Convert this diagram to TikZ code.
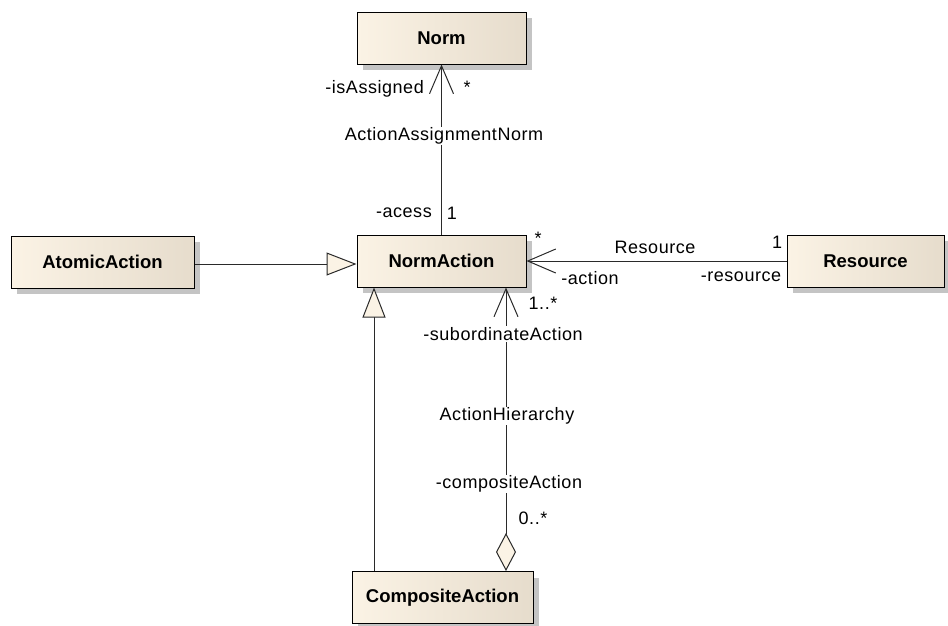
\documentclass[tikz,border=0pt]{standalone}
\usepackage{fontspec}
\setmainfont{Liberation Sans}
\newfontfamily\lblfont[LetterSpace=3]{Liberation Sans}
\usetikzlibrary{arrows.meta,shadows}

\definecolor{boxlight}{HTML}{FBF3E5}
\definecolor{boxdark}{HTML}{E6DCCC}
\definecolor{shadowgray}{HTML}{C4C4C4}
\definecolor{linegray}{HTML}{2A2A2A}

\tikzset{
  classbox/.style={draw=black, line width=1pt, minimum height=52pt, inner sep=0pt,
    left color=boxlight, right color=boxdark,
    font=\bfseries\fontsize{18.5}{20}\selectfont,
    drop shadow={shadow xshift=6pt, shadow yshift=-6pt, fill=shadowgray, opacity=1}},
  lbl/.style={font=\lblfont\fontsize{18}{20}\selectfont, inner sep=1pt, text=black},
  onlinelbl/.style={lbl, fill=white},
  conn/.style={draw=linegray, line width=1pt},
  navarrow/.style={conn, -{Straight Barb[length=28pt, width=24pt, line width=1pt]}},
  genarrow/.style={conn, -{Triangle[length=30pt, width=23pt, fill=boxlight, line width=1pt]}},
  aggarrow/.style={conn, {Diamond[length=38pt, width=20pt, fill=boxlight, line width=1pt]}-{Straight Barb[length=28pt, width=24pt, line width=1pt]}}
}

\begin{document}
\begin{tikzpicture}[x=1pt, y=-1pt]
  \useasboundingbox (0,0) rectangle (948,625);

  % classes
  \node[classbox, minimum width=169pt] (norm) at (441.5,38) {Norm};
  \node[classbox, minimum width=183pt] (atomic) at (102.5,262) {AtomicAction};
  \node[classbox, minimum width=169pt] (normaction) at (441.5,261) {NormAction};
  \node[classbox, minimum width=157pt] (resource) at (865.5,261) {Resource};
  \node[classbox, minimum width=181pt] (composite) at (442.5,597.5) {CompositeAction};

  % ActionAssignmentNorm association
  \draw[navarrow] (normaction.north) -- (norm.south);
  \node[onlinelbl] (aanlabel) at (444,136) {ActionAssignmentNorm};
  \node[lbl, anchor=east] (isassigned) at (425,89) {-isAssigned};
  \node[lbl] (normmult) at (467,87) {*};
  \node[lbl, anchor=east] (acess) at (433,213) {-acess};
  \node[lbl] (acessmult) at (452,213) {1};

  % generalizations
  \draw[genarrow] ([yshift=-2pt]atomic.east) -- ([yshift=-3pt]normaction.west);
  \draw[genarrow] ([xshift=-68.5pt]composite.north) -- ([xshift=-67.5pt]normaction.south);

  % Resource association
  \draw[navarrow] (resource.west) -- (normaction.east);
  \node[lbl] (reslabel) at (655,247) {Resource};
  \node[lbl] (resmult) at (777,242) {1};
  \node[lbl] (actionrole) at (590,278) {-action};
  \node[lbl] (resrole) at (741,277) {-resource};
  \node[lbl] (actmult) at (538,238) {*};

  % ActionHierarchy aggregation
  \draw[aggarrow] ([xshift=63.5pt]composite.north) -- ([xshift=64.5pt]normaction.south);
  \node[lbl] (submult) at (543,303) {1..*};
  \node[onlinelbl] (subrole) at (503,334) {-subordinateAction};
  \node[onlinelbl] (hierlabel) at (507,416) {ActionHierarchy};
  \node[onlinelbl] (comprole) at (509,484) {-compositeAction};
  \node[lbl] (compmult) at (533,518) {0..*};
\end{tikzpicture}
\end{document}
